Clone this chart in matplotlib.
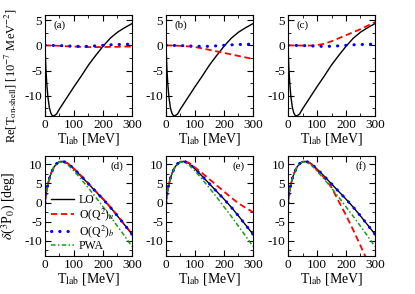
import numpy as np
import matplotlib.pyplot as plt
from matplotlib.ticker import MultipleLocator

plt.rcParams['font.family'] = 'Liberation Serif'
plt.rcParams['mathtext.fontset'] = 'stix'
plt.rcParams['axes.unicode_minus'] = False

# Re[T_on-shell] (10^-7 MeV^-2), panels (a)-(c)
t_top = [0, 3, 6, 10, 15, 20, 25, 30, 40, 50, 75, 100, 125, 150, 175, 200, 225, 250, 275, 300]
lo_top = [0, -4.5, -7.5, -10.2, -12.3, -13.4, -13.9, -14.0, -13.6, -12.6, -10.4, -8.2,
          -6.1, -3.9, -2.0, -0.2, 1.4, 2.6, 3.5, 4.3]

t_nlo = [0, 50, 75, 100, 125, 150, 175, 200, 225, 250, 275, 300]
b_top = [0, -0.05, -0.1, -0.2, -0.2, -0.2, -0.1, 0.0, 0.1, 0.15, 0.2, 0.25]
a_top_a = [0, -0.1, -0.2, -0.25, -0.3, -0.35, -0.35, -0.35, -0.3, -0.3, -0.25, -0.25]
a_top_b = [0, -0.1, -0.2, -0.35, -0.6, -0.9, -1.2, -1.5, -1.8, -2.1, -2.4, -2.7]
a_top_c = [0, -0.05, -0.05, 0.05, 0.3, 0.8, 1.4, 2.0, 2.6, 3.2, 3.9, 4.6]

# delta(3P0) in deg, panels (d)-(f)
t_bot = [0, 2, 5, 10, 15, 20, 30, 40, 50, 60, 70, 80, 100, 125, 150, 175, 200, 225, 250, 275, 300]
lo_bot = [0, 1.3, 2.9, 4.8, 6.3, 7.5, 9.2, 10.2, 10.7, 10.8, 10.6, 10.2, 8.8, 6.9, 4.9, 2.9,
          0.9, -1.2, -3.5, -5.9, -8.3]
pwa = [0, 1.2, 2.8, 4.7, 6.2, 7.4, 9.1, 10.1, 10.6, 10.6, 10.3, 9.8, 8.3, 6.1, 3.8, 1.4,
       -1.1, -3.6, -6.2, -8.8, -11.5]
b_bot = [0, 1.3, 2.9, 4.8, 6.3, 7.5, 9.2, 10.2, 10.7, 10.8, 10.6, 10.2, 8.8, 6.9, 4.9, 2.9,
         0.9, -1.2, -3.5, -5.9, -8.3]
a_bot_d = [0, 1.3, 2.9, 4.8, 6.3, 7.5, 9.2, 10.2, 10.7, 10.8, 10.6, 10.2, 8.9, 7.0, 5.0, 3.0,
           1.0, -1.1, -3.4, -5.8, -8.2]
a_bot_e = [0, 1.3, 2.9, 4.8, 6.3, 7.5, 9.2, 10.2, 10.7, 10.8, 10.7, 10.4, 9.2, 7.7, 6.1, 4.5,
           2.9, 1.3, -0.2, -1.4, -2.5]
a_bot_f = [0, 1.3, 2.9, 4.8, 6.3, 7.5, 9.2, 10.2, 10.7, 10.8, 10.6, 10.1, 8.5, 6.5, 4.0, 0.3,
           -3.3, -7.2, -11.3, -15.5, -19.7]

fig = plt.figure(figsize=(4.15, 2.94), dpi=100)

lefts = [0.1084, 0.40, 0.694]
w = 0.2096

def style(ax, ymin, ymax):
    ax.set_xlim(0, 300)
    ax.set_ylim(ymin, ymax)
    ax.xaxis.set_major_locator(MultipleLocator(100))
    ax.xaxis.set_minor_locator(MultipleLocator(50))
    ax.yaxis.set_major_locator(MultipleLocator(5))
    ax.yaxis.set_minor_locator(MultipleLocator(2.5))
    ax.tick_params(which='both', direction='in', top=True, right=True, labelsize=9.5, pad=2)
    ax.tick_params(which='major', length=4)
    ax.tick_params(which='minor', length=2.5)
    ax.set_xlabel(r'T$_{\rm lab}$ [MeV]', fontsize=10, labelpad=0)

dots = (0, (0.1, 2.6))
dashes = (0, (3.5, 2))
dashdot = (0, (3, 1.5, 1, 1.5))

top_red = [a_top_a, a_top_b, a_top_c]
bot_red = [a_bot_d, a_bot_e, a_bot_f]
tags_top = ['(a)', '(b)', '(c)']
tags_bot = ['(d)', '(e)', '(f)']

for i in range(3):
    ax = fig.add_axes([lefts[i], 0.6054, w, 0.3435])
    ax.plot(t_top, lo_top, color='black', lw=1)
    ax.plot(t_nlo, top_red[i], color='red', lw=1.3, linestyle=dashes)
    ax.plot(t_nlo, b_top, color='blue', lw=2.2, linestyle=dots, dash_capstyle='round')
    style(ax, -14, 6)
    ax.text(0.1, 0.9, tags_top[i], transform=ax.transAxes, fontsize=8, va='center')
    if i == 0:
        ax.set_ylabel(r'Re[T$_{\text{on-shell}}$] [10$^{-7}$ MeV$^{-2}$]', fontsize=9)
        ax.yaxis.set_label_coords(-0.30, 0.40)

    ax = fig.add_axes([lefts[i], 0.1293, w, 0.340])
    l1, = ax.plot(t_bot, lo_bot, color='black', lw=1, label='LO')
    l2, = ax.plot(t_bot, bot_red[i], color='red', lw=1.3, linestyle=dashes, label=r'O(Q$^2$)$_a$')
    l3, = ax.plot(t_bot, b_bot, color='blue', lw=2.2, linestyle=dots, dash_capstyle='round',
                  label=r'O(Q$^2$)$_b$')
    l4, = ax.plot(t_bot, pwa, color='#1a9a1a', lw=1.1, linestyle=dashdot, label='PWA')
    style(ax, -14, 12.2)
    ax.text(0.9, 0.9, tags_bot[i], transform=ax.transAxes, fontsize=8, va='center', ha='right')
    if i == 0:
        ax.set_ylabel(r'$\delta$($^3$P$_0$) [deg]', fontsize=10)
        ax.yaxis.set_label_coords(-0.31, 0.5)
        ax.legend(handles=[l1, l2, l3, l4], loc='upper left', frameon=False, fontsize=8.5,
                  handlelength=2.0, handletextpad=0.4, labelspacing=0.0, handleheight=0.5,
                  borderaxespad=0.0, borderpad=0.1, bbox_to_anchor=(0.05, 0.63))

fig.savefig('out.png', dpi=100)
